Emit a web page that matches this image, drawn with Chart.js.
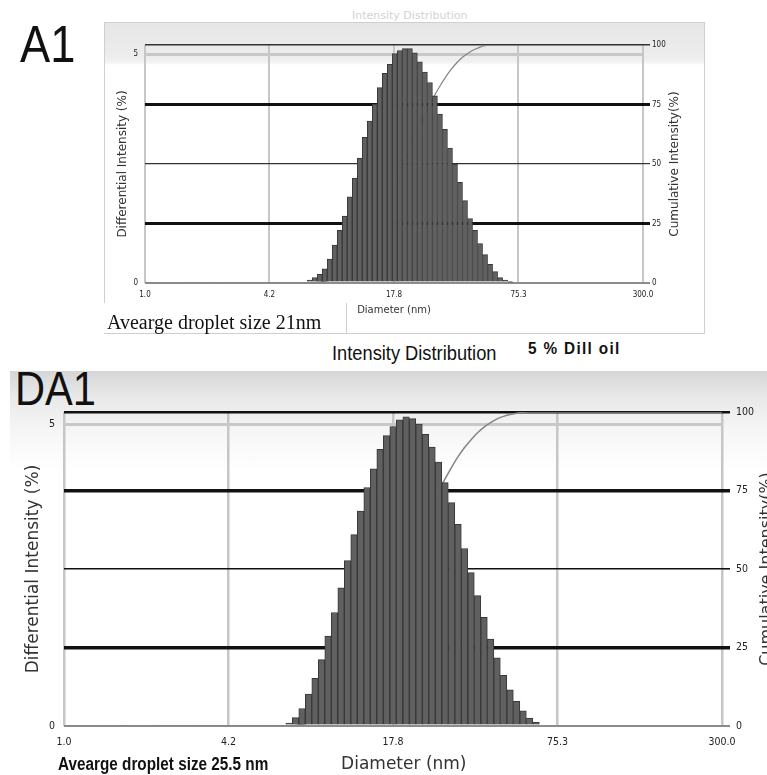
<!DOCTYPE html>
<html>
<head>
<meta charset="utf-8">
<script src="https://cdn.jsdelivr.net/npm/chart.js@4.4.1/dist/chart.umd.min.js"></script>
<style>
  body { margin: 0; width: 767px; height: 775px; position: relative; overflow: hidden; background: #fff; }
  .abs { position: absolute; white-space: nowrap; }
  .narrow { font-family: 'Liberation Sans', Arial, sans-serif; transform-origin: 0 0; }
  #frameA { left: 104px; top: 22px; width: 599px; height: 310px; border: 1px solid #cfcfcf;
    background: linear-gradient(to bottom, #e6e6e6 0px, #ececec 30px, #f1f1f1 39px, #fff 42px); }
  #coverA { left: 98px; top: 303px; width: 248px; height: 30px; background: #fff; border-right: 1px solid #cfcfcf; }
  #faint { left: 352px; top: 9px; font: 11px 'DejaVu Sans', sans-serif; color: #d2d2d2; }
  #bandDA1 { left: 10px; top: 371px; width: 757px; height: 100px;
    background: linear-gradient(to bottom, #d6d6d6 0px, #e8e8e8 25px, #f6f6f6 60px, #fff 100px); }
  #lblA1 { left: 20px; top: 18px; font-size: 52px; line-height: 1; color: #111; transform: scaleX(0.87); }
  #lblDA1 { left: 15px; top: 364px; font-size: 49px; line-height: 1; color: #111; transform: scaleX(0.85); }
  #noteA1 { left: 107px; top: 312px; font: 20px 'Liberation Serif', serif; line-height: 1; color: #111; }
  #intDist { left: 332px; top: 342px; font-size: 21px; line-height: 1; color: #111; transform: scaleX(0.87); }
  #dill { left: 528px; top: 340px; font-size: 17px; font-weight: bold; line-height: 1; color: #111;
    letter-spacing: 1.5px; transform: scaleX(0.9); }
  #noteDA1 { left: 58px; top: 755px; font-size: 18px; font-weight: bold; line-height: 1; color: #111; transform: scaleX(0.85); }
</style>
</head>
<body>
<div class="abs" id="faint">Intensity Distribution</div>
<div class="abs" id="frameA"></div>
<div class="abs" id="coverA"></div>
<div class="abs narrow" id="lblA1">A1</div>
<div class="abs" style="left:100px;top:25px;width:600px;height:293px"><canvas id="chartA1" width="600" height="293"></canvas></div>
<div class="abs" id="noteA1">Avearge droplet size 21nm</div>
<div class="abs narrow" id="intDist">Intensity Distribution</div>
<div class="abs narrow" id="dill">5 % Dill oil</div>
<div class="abs" id="bandDA1"></div>
<div class="abs narrow" id="lblDA1">DA1</div>
<div class="abs" style="left:10px;top:380px;width:757px;height:395px"><canvas id="chartDA1" width="757" height="395"></canvas></div>
<div class="abs narrow" id="noteDA1">Avearge droplet size 25.5 nm</div>

<script>
// shared axis ticks
var tickValues = [1, 4.16, 17.32, 72.08, 300];
var tickLabels = ["1.0", "4.2", "17.8", "75.3", "300.0"];
var rightTicks = [0, 25, 50, 75, 100];
var leftTicks = [0, 5];

// A1 (top panel)
var a1Diameter = [6.59, 6.98, 7.39, 7.83, 8.29, 8.78, 9.30, 9.85, 10.43, 11.05,
    11.70, 12.39, 13.12, 13.90, 14.72, 15.59, 16.51, 17.49, 18.52, 19.62,
    20.78, 22.00, 23.30, 24.68, 26.14, 27.68, 29.32, 31.05, 32.89, 34.83,
    36.89, 39.07, 41.38, 43.82, 46.41, 49.15, 52.06, 55.13, 58.39, 61.84, 65.50];
var a1Intensity = [0.065, 0.12, 0.19, 0.31, 0.52, 0.83, 1.15, 1.46, 1.88, 2.29,
    2.73, 3.18, 3.54, 3.91, 4.27, 4.58, 4.78, 5.01, 5.08, 5.12,
    5.12, 5.03, 4.83, 4.61, 4.38, 4.09, 3.69, 3.36, 2.95, 2.60,
    2.20, 1.80, 1.41, 1.15, 0.86, 0.62, 0.41, 0.25, 0.12, 0.065, 0.02];
var a1Cumulative = [0.1, 0.2, 0.4, 0.7, 1.2, 2.0, 3.2, 4.6, 6.5, 8.8,
    11.5, 14.7, 18.3, 22.2, 26.4, 31.0, 35.8, 40.8, 45.9, 51.0,
    56.1, 61.2, 66.0, 70.6, 75.0, 79.1, 82.8, 86.1, 89.1, 91.7,
    93.9, 95.7, 97.1, 98.2, 99.1, 99.7, 100, 100, 100, 100, 100];

// DA1 (bottom panel)
var da1Diameter = [7.03, 7.44, 7.87, 8.33, 8.81, 9.32, 9.86, 10.43, 11.04, 11.68,
    12.35, 13.07, 13.83, 14.63, 15.48, 16.38, 17.33, 18.33, 19.40, 20.52,
    21.71, 22.97, 24.30, 25.71, 27.20, 28.78, 30.45, 32.21, 34.08, 36.06,
    38.15, 40.36, 42.70, 45.18, 47.80, 50.57, 53.50, 56.60, 59.89];
var da1Intensity = [0.05, 0.14, 0.29, 0.53, 0.79, 1.10, 1.49, 1.88, 2.29, 2.74,
    3.17, 3.56, 3.95, 4.26, 4.58, 4.81, 4.96, 5.07, 5.12, 5.09,
    5.00, 4.83, 4.62, 4.37, 4.03, 3.70, 3.34, 2.94, 2.54, 2.16,
    1.80, 1.44, 1.13, 0.84, 0.60, 0.41, 0.25, 0.13, 0.06];
var da1Cumulative = [0.1, 0.2, 0.5, 1.0, 1.8, 2.9, 4.4, 6.3, 8.6, 11.3,
    14.5, 18.0, 22.0, 26.2, 30.8, 35.6, 40.6, 45.7, 50.8, 55.9,
    60.9, 65.7, 70.3, 74.7, 78.7, 82.4, 85.8, 88.7, 91.2, 93.4,
    95.2, 96.6, 97.8, 98.6, 99.2, 99.6, 99.9, 100, 100];

var TICK_FONT = "'DejaVu Sans Condensed', 'DejaVu Sans', sans-serif";

// right-hand title reads bottom-to-top like the left one
var rightTitle = {
    id: 'rightTitle',
    afterDraw: function (chart, args, opts) {
        var ctx = chart.ctx, area = chart.chartArea;
        ctx.save();
        ctx.translate(opts.x, (area.top + area.bottom) / 2);
        ctx.rotate(-Math.PI / 2);
        ctx.font = opts.font;
        ctx.fillStyle = '#333';
        ctx.textAlign = 'center';
        ctx.textBaseline = 'middle';
        ctx.fillText(opts.text, 0, 0);
        ctx.restore();
    }
};

function drawPanel(canvasId, diameter, intensity, cumulative, lay) {
    var bars = diameter.map(function (d, i) { return { x: d, y: intensity[i] }; });
    var curve = [{ x: 1, y: 0 }].concat(
        diameter.map(function (d, i) { return { x: d, y: cumulative[i] }; }),
        [{ x: 300, y: 100 }]);
    var hLines = lay.hLines;

    return new Chart(document.getElementById(canvasId), {
        type: 'bar',
        data: {
            datasets: [{
                type: 'bar',
                data: bars,
                yAxisID: 'y',
                backgroundColor: '#606060',
                borderColor: '#383838',
                borderWidth: 1,
                barPercentage: 1,
                categoryPercentage: 1,
                order: 0,
            }, {
                type: 'line',
                data: curve,
                yAxisID: 'y2',
                borderColor: '#858585',
                borderWidth: lay.curveWidth,
                pointRadius: 0,
                cubicInterpolationMode: 'monotone',
                fill: false,
                order: 1,
            }],
        },
        options: {
            responsive: false,
            animation: false,
            devicePixelRatio: 1,
            layout: { padding: { left: lay.padLeft, top: lay.padTop, right: 0, bottom: 0 } },
            plugins: {
                legend: { display: false },
                tooltip: { enabled: false },
                rightTitle: { text: 'Cumulative Intensity(%)', x: lay.rightTitleX, font: lay.rightTitleFont },
            },
            scales: {
                x: {
                    type: 'logarithmic',
                    min: 1,
                    max: 300,
                    offset: false,
                    afterBuildTicks: function (s) { s.ticks = tickValues.map(function (v) { return { value: v }; }); },
                    afterFit: function (s) { s.height = lay.xHeight; },
                    ticks: {
                        autoSkip: false,
                        maxRotation: 0,
                        padding: lay.xTickPad,
                        color: '#222',
                        font: { family: TICK_FONT, size: lay.tickSize },
                        callback: function (v, i) { return tickLabels[i]; },
                    },
                    grid: { offset: false, drawTicks: false, color: '#c6c6c6', lineWidth: lay.vGridWidth },
                    border: { display: false },
                    title: {
                        display: true,
                        text: lay.xTitle,
                        color: '#333',
                        font: { family: 'DejaVu Sans', size: lay.xTitleSize },
                        padding: { top: 0, bottom: lay.xTitlePad },
                    },
                },
                y: {
                    position: 'left',
                    min: 0,
                    max: 5.2,
                    afterBuildTicks: function (s) { s.ticks = leftTicks.map(function (v) { return { value: v }; }); },
                    afterFit: function (s) { s.width = lay.yWidth; },
                    ticks: { padding: lay.yTickPad, color: '#222', font: { family: TICK_FONT, size: lay.tickSize } },
                    grid: {
                        drawTicks: false,
                        color: function (c) { return c.tick && c.tick.value === 5 ? '#c8c8c8' : 'rgba(0,0,0,0)'; },
                        lineWidth: 3,
                    },
                    border: { display: false },
                    title: {
                        display: true,
                        text: 'Differential Intensity (%)',
                        color: '#333',
                        font: { family: 'DejaVu Sans', size: lay.yTitleSize },
                        padding: { top: 4, bottom: 0 },
                    },
                },
                y2: {
                    position: 'right',
                    min: 0,
                    max: 100,
                    afterBuildTicks: function (s) { s.ticks = rightTicks.map(function (v) { return { value: v }; }); },
                    afterFit: function (s) { s.width = lay.y2Width; },
                    ticks: { padding: lay.y2TickPad, color: '#222', font: { family: TICK_FONT, size: lay.tickSize } },
                    grid: {
                        tickLength: lay.tickLength,
                        color: function (c) { return c.tick ? hLines[c.tick.value][0] : 'rgba(0,0,0,0)'; },
                        lineWidth: function (c) { return c.tick ? hLines[c.tick.value][1] : 0; },
                    },
                    border: { display: false },
                },
            },
        },
        plugins: [rightTitle],
    });
}

drawPanel('chartA1', a1Diameter, a1Intensity, a1Cumulative, {
    padLeft: 12, padTop: 20,
    yWidth: 33, y2Width: 57, xHeight: 35,
    xTickPad: 7, yTickPad: 7, y2TickPad: 2, tickLength: 7,
    tickSize: 8, xTitle: 'Diameter (nm)', xTitleSize: 10, xTitlePad: 2, yTitleSize: 12,
    rightTitleX: 575, rightTitleFont: "12px 'DejaVu Sans'",
    vGridWidth: 2, curveWidth: 1.2,
    hLines: { 0: ['#8c8c8c', 2], 25: ['#111', 3], 50: ['#333', 1.2], 75: ['#111', 3], 100: ['#333', 1.5] },
});

drawPanel('chartDA1', da1Diameter, da1Intensity, da1Cumulative, {
    padLeft: 9, padTop: 32,
    yWidth: 45, y2Width: 45, xHeight: 49,
    xTickPad: 10, yTickPad: 9, y2TickPad: 6, tickLength: 8,
    tickSize: 10.5, xTitle: '    Diameter (nm)', xTitleSize: 17, xTitlePad: 0, yTitleSize: 17,
    rightTitleX: 757, rightTitleFont: "16px 'DejaVu Sans'",
    vGridWidth: 2.5, curveWidth: 1.5,
    hLines: { 0: ['#8c8c8c', 2], 25: ['#111', 3.5], 50: ['#111', 1.6], 75: ['#111', 3.5], 100: ['#111', 2.5] },
});
</script>
</body>
</html>
